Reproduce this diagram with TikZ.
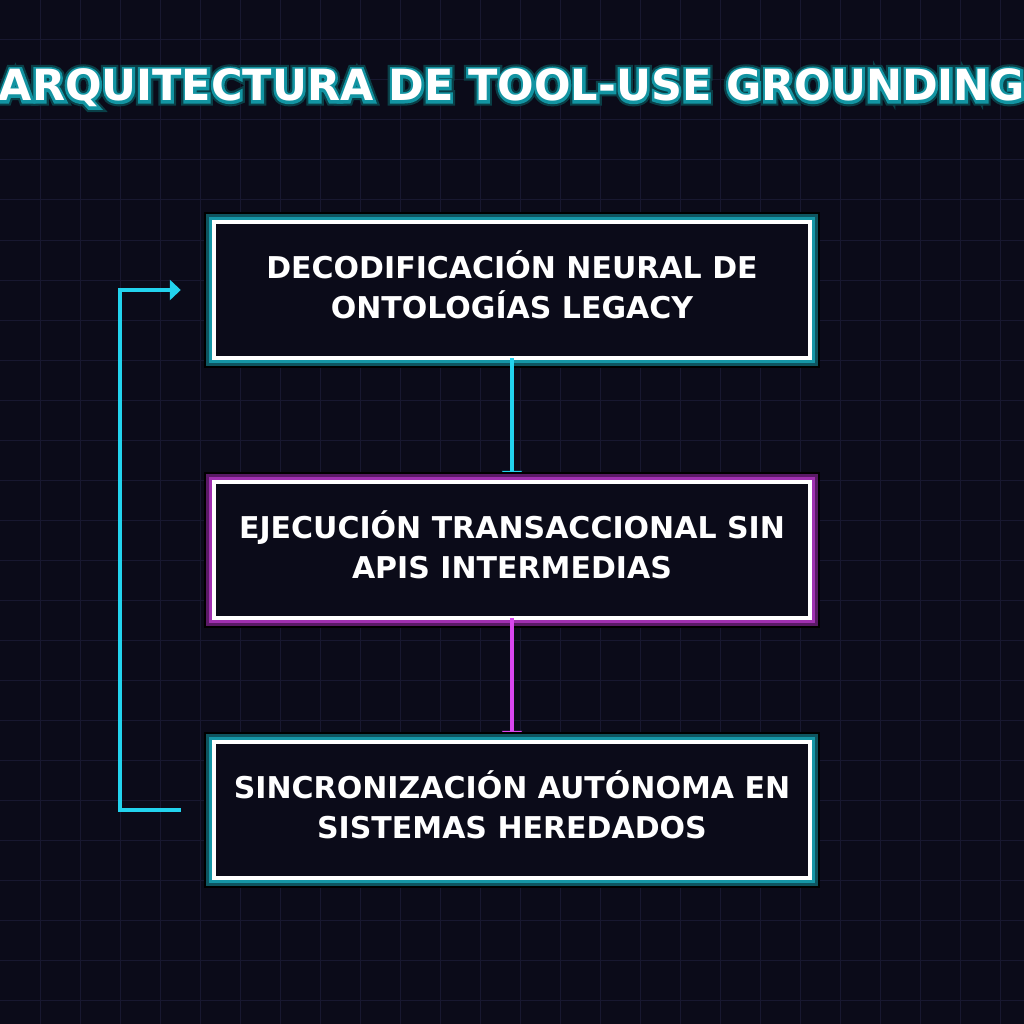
\documentclass[tikz,border=0pt]{standalone}
\usepackage{fontspec}
\setmainfont{DejaVu Sans}
\newfontfamily\glowA[FakeBold=22]{DejaVu Sans Bold}
\newfontfamily\glowB[FakeBold=12]{DejaVu Sans Bold}
\usetikzlibrary{arrows.meta,calc}
\definecolor{bg}{HTML}{0B0B19}
\definecolor{gridc}{HTML}{181830}
\definecolor{cyanA}{HTML}{22D3EE}
\definecolor{tealG}{HTML}{1596A6}
\definecolor{tealD}{HTML}{0E5560}
\definecolor{tealT}{HTML}{1294A2}
\definecolor{tealO}{HTML}{0A3F47}
\definecolor{magA}{HTML}{D946EF}
\definecolor{magG}{HTML}{A030B0}
\definecolor{magD}{HTML}{5A1A66}
\pgfdeclarelayer{gridlayer}
\pgfdeclarelayer{boxlayer}
\pgfsetlayers{gridlayer,boxlayer,main}
\tikzset{
  boxframe/.style={minimum width=596pt, minimum height=136pt, inner sep=0pt},
  boxlabel/.style={inner sep=0pt, align=center, text=white,
    font=\bfseries\fontsize{30}{40}\selectfont},
  titlestyle/.style={inner sep=0pt, anchor=base},
  conn/.style={line width=4pt, -{Triangle[width=20pt,length=11pt]}},
}
\newcommand\ttl{ARQUITECTURA DE TOOL-USE GROUNDING}
\newcommand\glowtitle{%
  \fontsize{43}{50}\selectfont
  \rlap{\glowA\color{tealO}\ttl}%
  \rlap{\glowB\color{tealT}\ttl}%
  \textcolor{white}{\bfseries\ttl}}
\newcommand\glowbox[3]{%
  \draw[black, line width=20pt] (#1.north west) rectangle (#1.south east);
  \draw[#2, line width=16pt] (#1.north west) rectangle (#1.south east);
  \draw[#3, line width=10pt] (#1.north west) rectangle (#1.south east);
  \draw[white, line width=4pt, fill=bg] (#1.north west) rectangle (#1.south east);}
\begin{document}
\begin{tikzpicture}[x=1pt,y=-1pt]
\useasboundingbox (0,0) rectangle (1024,1024);
\begin{pgfonlayer}{gridlayer}
\fill[bg] (0,0) rectangle (1024,1024);
\foreach \i in {40,80,...,1000} {
  \draw[gridc, line width=1pt] (\i,0) -- (\i,1024);
  \draw[gridc, line width=1pt] (0,\i) -- (1024,\i);
}
\end{pgfonlayer}
% title
\node[titlestyle] (title) at (512,101) {\glowtitle};
% boxes
\node[boxframe] (b1) at (512,290) {};
\node[boxframe] (b2) at (512,550) {};
\node[boxframe] (b3) at (512,810) {};
\node[boxlabel] (t1) at (512,285) {DECODIFICACIÓN NEURAL DE\\ONTOLOGÍAS LEGACY};
\node[boxlabel] (t2) at (512,545) {EJECUCIÓN TRANSACCIONAL SIN\\APIS INTERMEDIAS};
\node[boxlabel] (t3) at (512,805) {SINCRONIZACIÓN AUTÓNOMA EN\\SISTEMAS HEREDADOS};
\coordinate (fb3) at ([xshift=-33pt]b3.west);
\coordinate (fb1) at ([xshift=-33pt]b1.west);
\begin{pgfonlayer}{boxlayer}
\glowbox{b1}{tealD}{tealG}
\draw[conn, cyanA] (b1.south) -- (b2.north);
\glowbox{b2}{magD}{magG}
\draw[conn, magA] (b2.south) -- (b3.north);
\glowbox{b3}{tealD}{tealG}
\draw[conn, cyanA] (fb3) -- ++(-61,0) |- (fb1);
\end{pgfonlayer}
\end{tikzpicture}
\end{document}
